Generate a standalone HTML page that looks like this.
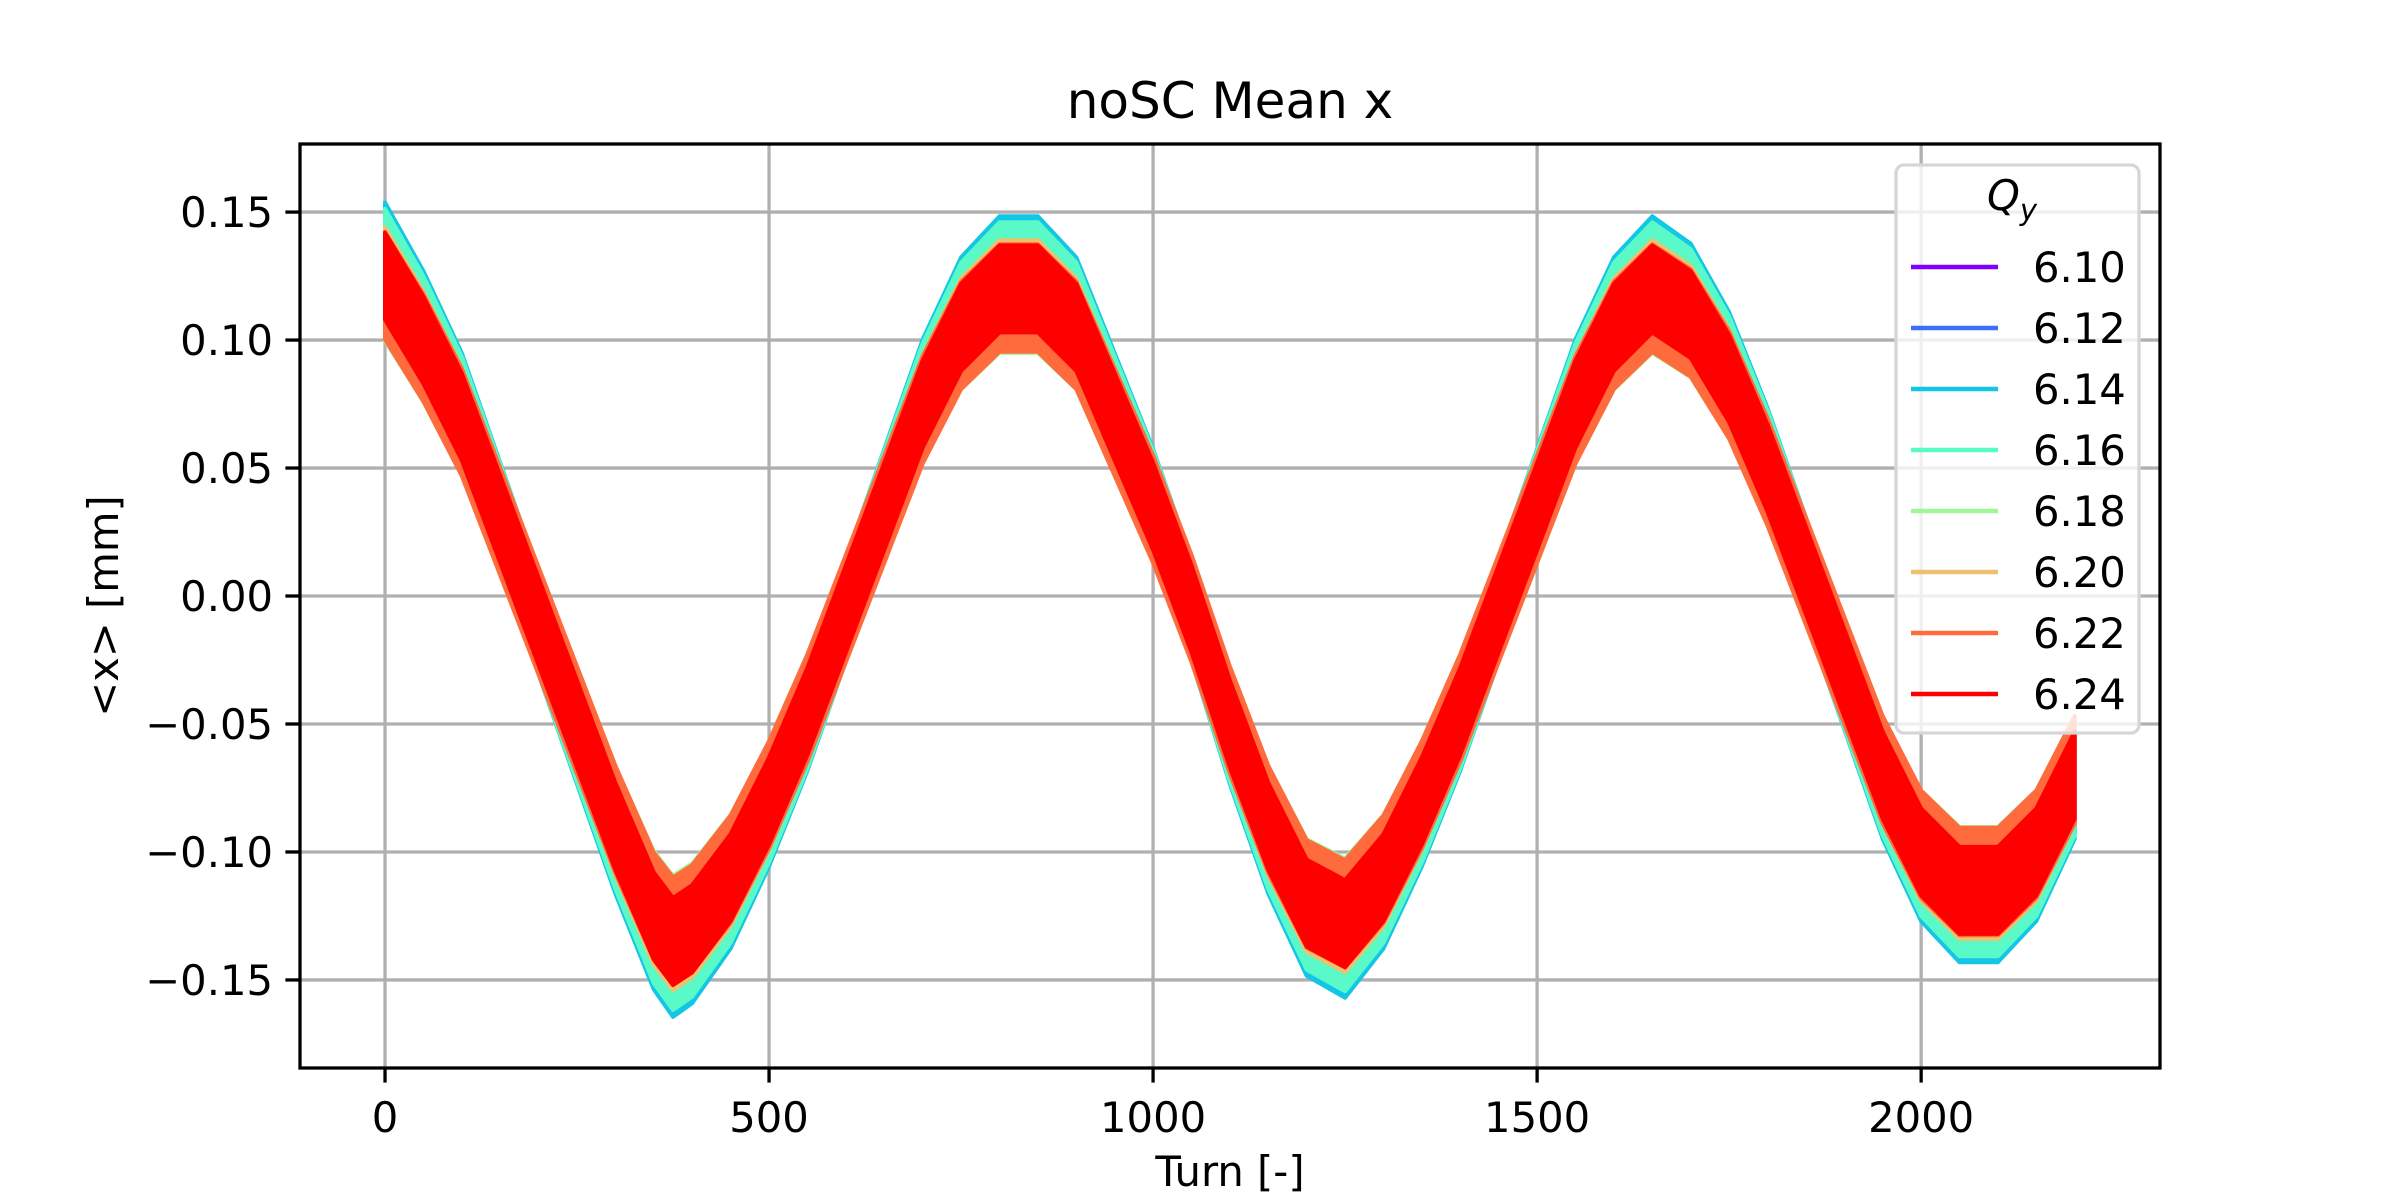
<!DOCTYPE html>
<html><head><meta charset="utf-8"><style>
html,body{margin:0;padding:0;background:#fff;width:2400px;height:1200px;overflow:hidden}
svg text{font-family:"DejaVu Sans","Liberation Sans",sans-serif}
</style></head><body>
<svg id="chart" width="2400" height="1200" xmlns="http://www.w3.org/2000/svg">
<rect width="2400" height="1200" fill="#fff"/>
<g id="grid"></g>
<g id="series"></g>
<g id="axes"></g>
<text x="1230" y="118" font-size="50" text-anchor="middle">noSC Mean x</text>
<text x="1230" y="1186" font-size="41.7" text-anchor="middle">Turn [-]</text>
<text transform="translate(118,606) rotate(-90)" font-size="41.7" text-anchor="middle">&lt;x&gt; [mm]</text>
<g id="legend"></g>
</svg>
<script>
const turns = [0,50,100,150,200,250,300,350,375,400,450,500,550,600,650,700,750,800,850,900,950,1000,1050,1100,1150,1200,1250,1300,1350,1400,1450,1500,1550,1600,1650,1700,1750,1800,1850,1900,1950,2000,2050,2100,2150,2200];
const meanX = [0.125,0.10,0.07,0.03,-0.01,-0.05,-0.09,-0.125,-0.135,-0.13,-0.11,-0.08,-0.045,-0.005,0.035,0.075,0.105,0.12,0.12,0.105,0.07,0.035,-0.005,-0.05,-0.09,-0.12,-0.128,-0.11,-0.08,-0.045,-0.005,0.035,0.075,0.105,0.12,0.11,0.085,0.05,0.01,-0.03,-0.07,-0.10,-0.115,-0.115,-0.10,-0.07];
const qyLabels = ["6.10","6.12","6.14","6.16","6.18","6.20","6.22","6.24"];
const ampScale = [1.05,1.05,1.07,1.05,0.95,1.0,0.97,1.0];
const halfWidth = [0.019,0.019,0.02,0.02,0.019,0.019,0.021,0.017];
const colors = ["#8000ff","#3e6ff9","#14c6e6","#5afac8","#a0f79a","#ecc36c","#ff6b3c","#ff0000"];
const xTicks = [0,500,1000,1500,2000];
const yTicks = [-0.15,-0.10,-0.05,0.00,0.05,0.10,0.15];

const L=300,R=2160,T=144,B=1068;
const xmin=-110.7,xmax=2311,ymin=-0.1844,ymax=0.1766;
const xs=v=>L+(v-xmin)/(xmax-xmin)*(R-L);
const ys=v=>B-(v-ymin)/(ymax-ymin)*(B-T);
const NS="http://www.w3.org/2000/svg";
function mk(tag,attrs,parent){const e=document.createElementNS(NS,tag);for(const k in attrs)e.setAttribute(k,attrs[k]);parent.appendChild(e);return e;}
const grid=document.getElementById('grid'),axes=document.getElementById('axes'),ser=document.getElementById('series'),leg=document.getElementById('legend');
xTicks.forEach(t=>{
  const g=mk('line',{x1:xs(t),x2:xs(t),y1:T,y2:B,stroke:'#b0b0b0','stroke-width':3.3},grid);
  
  
  const tk=mk('line',{x1:xs(t),x2:xs(t),y1:B,y2:B+14.6,stroke:'#000','stroke-width':3.3},axes);
  
  
  const tx=mk('text',{x:xs(t),y:B+64,'font-size':41.7,'text-anchor':'middle'},axes);
  tx.textContent=String(t);
  
  
});
yTicks.forEach(t=>{
  const g=mk('line',{x1:L,x2:R,y1:ys(t),y2:ys(t),stroke:'#b0b0b0','stroke-width':3.3},grid);
  
  
  const tk=mk('line',{x1:L-14.6,x2:L,y1:ys(t),y2:ys(t),stroke:'#000','stroke-width':3.3},axes);
  
  
  const tx=mk('text',{x:L-27,y:ys(t)+15,'font-size':41.7,'text-anchor':'end'},axes);
  tx.textContent=(t<0?'\u2212':'')+Math.abs(t).toFixed(2);
  
  
});
const frame=mk('rect',{x:L,y:T,width:R-L,height:B-T,fill:'none',stroke:'#000','stroke-width':3.3},axes);



qyLabels.forEach((lab,i)=>{
  const up=[],lo=[];
  turns.forEach((t,j)=>{const c=meanX[j]*ampScale[i];up.push(xs(t).toFixed(1)+','+ys(c+halfWidth[i]).toFixed(1));lo.push(xs(t).toFixed(1)+','+ys(c-halfWidth[i]).toFixed(1));});
  const p=mk('polygon',{points:up.concat(lo.reverse()).join(' '),fill:colors[i],stroke:colors[i],'stroke-width':4,'stroke-linejoin':'round'},ser);
  
  
});

const lb=mk('rect',{x:1896,y:165,width:243,height:568,rx:8,fill:'#fff','fill-opacity':0.8,stroke:'#d6d6d6','stroke-width':3.3},leg);


const lt=mk('text',{x:2012,y:210,'font-size':41.7,'font-style':'italic','text-anchor':'middle'},leg);
lt.innerHTML='Q<tspan font-size="29" dy="10">y</tspan>';


qyLabels.forEach((lab,i)=>{
  const y=267+i*61;
  const ln=mk('line',{x1:1911,x2:1998,y1:y,y2:y,stroke:colors[i],'stroke-width':4.5},leg);
  
  
  const tx=mk('text',{x:2033,y:y+15,'font-size':41.7},leg);
  tx.textContent=lab;
  
  
});
</script>
</body></html>
